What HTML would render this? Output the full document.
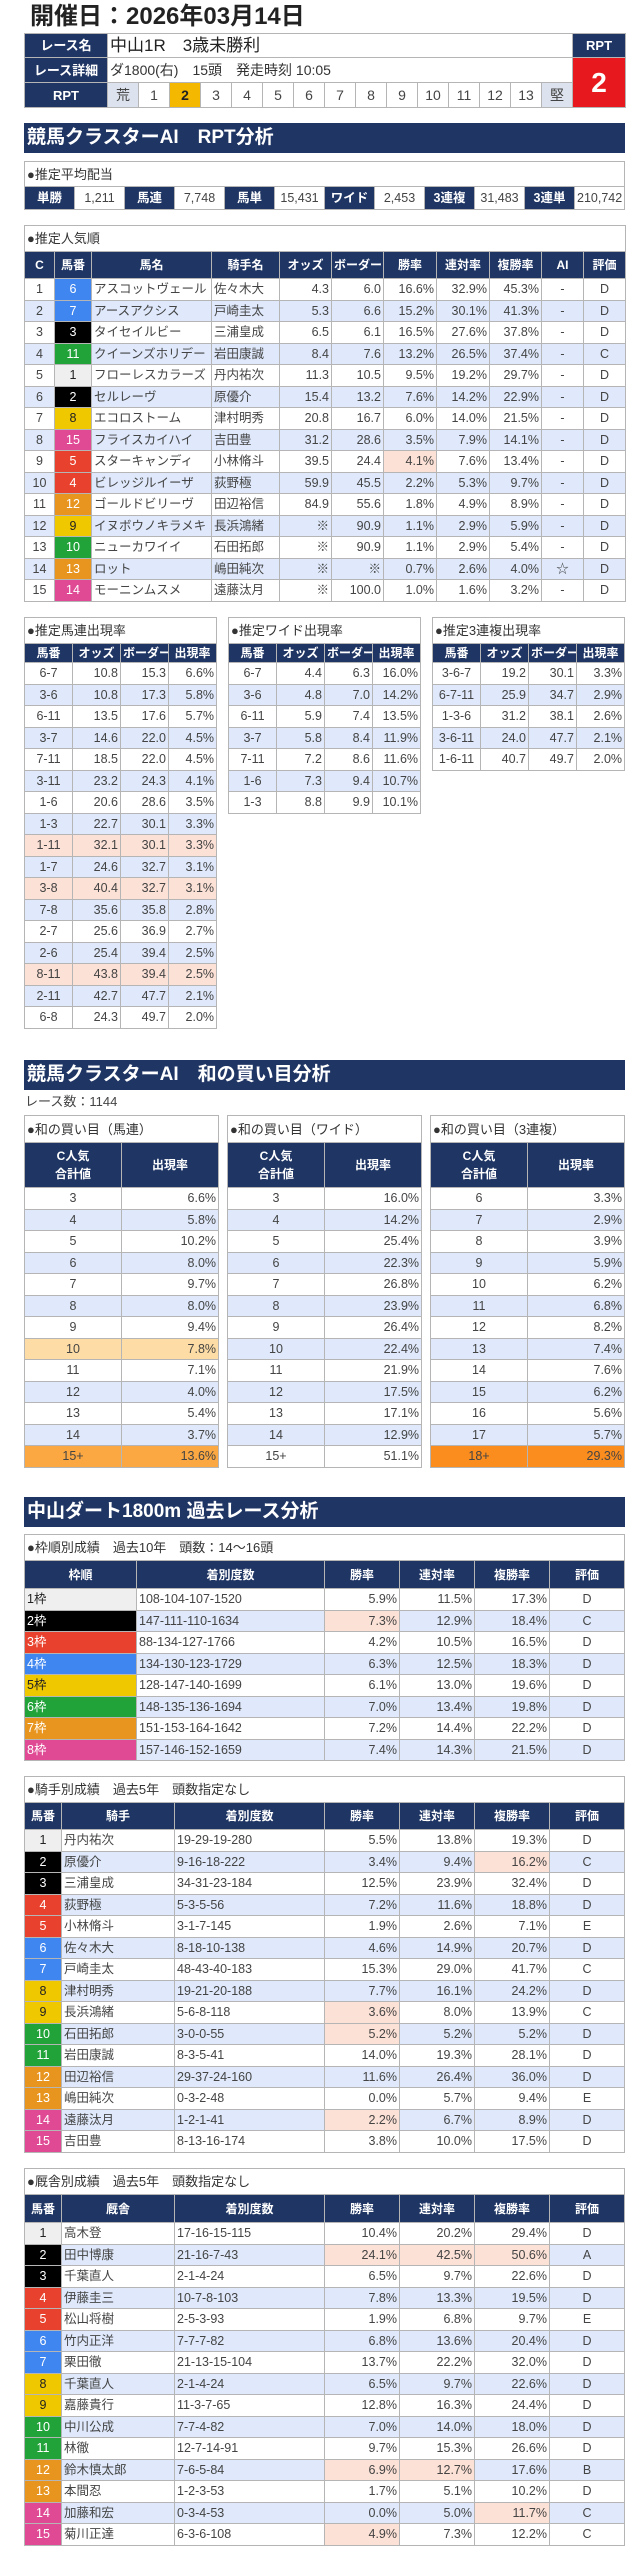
<!DOCTYPE html>
<html><head><meta charset="utf-8">
<style>
body{margin:0;width:644px;height:2560px;background:#fff;position:relative;font-family:"Liberation Sans","Noto Sans CJK JP",sans-serif;color:#444;overflow:hidden}
.t{position:absolute;left:24px;border-collapse:collapse;table-layout:fixed;font-size:12.5px;color:#444}
.t td{border:1px solid #b5b5b5;padding:0 2px;white-space:nowrap;overflow:hidden;line-height:1}
.h td{background:#1f3564;color:#fff;font-weight:bold;text-align:center;font-size:12px}
.ti td{background:#fff;text-align:left;font-size:13px;color:#333}
.a td{background:#dfe9fb}
.r{text-align:right}.c{text-align:center}
.t td.p{background:#fce1d6}
.bar{position:absolute;left:24px;width:598px;height:30px;background:#1f3564;color:#fff;font-weight:bold;font-size:19px;line-height:30px;padding-left:3px}
.f1{background:#efefef!important;color:#222!important}
.f2{background:#000!important;color:#fff!important}
.f3{background:#e8412d!important;color:#fff!important}
.f4{background:#3f86f0!important;color:#fff!important}
.f5{background:#f0c800!important;color:#222!important}
.f6{background:#21a33a!important;color:#fff!important}
.f7{background:#e8951f!important;color:#fff!important}
.f8{background:#e04a95!important;color:#fff!important}
.t td.o1{background:#fedca5}.t td.o2{background:#fba842}.t td.o3{background:#fb8c1e}
</style></head><body>
<div style="position:absolute;left:30px;top:3px;font-size:24px;font-weight:bold;color:#222;line-height:28px">開催日：2026年03月14日</div>

<table class="t" style="top:33px;width:601px;font-size:14px">
<colgroup><col style="width:83px"><col span="15" style="width:31px"><col style="width:53px"></colgroup>
<tr style="height:24px"><td style="background:#1f3564;color:#fff;font-weight:bold;text-align:center;font-size:13px">レース名</td><td colspan="15" style="font-size:17px;color:#222">中山1R　3歳未勝利</td><td style="background:#1f3564;color:#fff;font-weight:bold;text-align:center;font-size:13px">RPT</td></tr>
<tr style="height:25px"><td style="background:#1f3564;color:#fff;font-weight:bold;text-align:center;font-size:13px">レース詳細</td><td colspan="15" style="color:#333">ダ1800(右)　15頭　発走時刻 10:05</td><td rowspan="2" style="background:#e8191e;color:#fff;font-weight:bold;text-align:center;font-size:28px">2</td></tr>
<tr style="height:25px"><td style="background:#1f3564;color:#fff;font-weight:bold;text-align:center;font-size:13px">RPT</td><td class="c" style="background:#dde3ee">荒</td><td class="c">1</td><td class="c" style="background:#f5b800;font-weight:bold;color:#222">2</td><td class="c">3</td><td class="c">4</td><td class="c">5</td><td class="c">6</td><td class="c">7</td><td class="c">8</td><td class="c">9</td><td class="c">10</td><td class="c">11</td><td class="c">12</td><td class="c">13</td><td class="c" style="background:#dde3ee">堅</td></tr>
</table>

<div class="bar" style="top:123px">競馬クラスターAI　RPT分析</div>

<table class="t" style="top:161px;width:601px">
<colgroup><col span="12" style="width:50px"></colgroup>
<tr class="ti" style="height:25px"><td colspan="12">●推定平均配当</td></tr>
<tr style="height:23px"><td class="c" style="background:#1f3564;color:#fff;font-weight:bold">単勝</td><td class="c">1,211</td><td class="c" style="background:#1f3564;color:#fff;font-weight:bold">馬連</td><td class="c">7,748</td><td class="c" style="background:#1f3564;color:#fff;font-weight:bold">馬単</td><td class="c">15,431</td><td class="c" style="background:#1f3564;color:#fff;font-weight:bold">ワイド</td><td class="c">2,453</td><td class="c" style="background:#1f3564;color:#fff;font-weight:bold">3連複</td><td class="c">31,483</td><td class="c" style="background:#1f3564;color:#fff;font-weight:bold">3連単</td><td class="c">210,742</td></tr>
</table>

<table class="t" style="top:225px;width:601px">
<colgroup><col style="width:30px"><col style="width:37px"><col style="width:120px"><col style="width:68px"><col style="width:52px"><col style="width:52px"><col style="width:53px"><col style="width:53px"><col style="width:52px"><col style="width:42px"><col style="width:42px"></colgroup>
<tr class="ti" style="height:26px"><td colspan="11">●推定人気順</td></tr>
<tr class="h" style="height:27px"><td>C</td><td>馬番</td><td>馬名</td><td>騎手名</td><td>オッズ</td><td>ボーダー</td><td>勝率</td><td>連対率</td><td>複勝率</td><td>AI</td><td>評価</td></tr>
<tr style="height:21.5px"><td class="c">1</td><td class="c f4">6</td><td>アスコットヴェール</td><td>佐々木大</td><td class="r">4.3</td><td class="r">6.0</td><td class="r">16.6%</td><td class="r">32.9%</td><td class="r">45.3%</td><td class="c">-</td><td class="c">D</td></tr>
<tr class="a" style="height:21.5px"><td class="c">2</td><td class="c f4">7</td><td>アースアクシス</td><td>戸崎圭太</td><td class="r">5.3</td><td class="r">6.6</td><td class="r">15.2%</td><td class="r">30.1%</td><td class="r">41.3%</td><td class="c">-</td><td class="c">D</td></tr>
<tr style="height:21.5px"><td class="c">3</td><td class="c f2">3</td><td>タイセイルビー</td><td>三浦皇成</td><td class="r">6.5</td><td class="r">6.1</td><td class="r">16.5%</td><td class="r">27.6%</td><td class="r">37.8%</td><td class="c">-</td><td class="c">D</td></tr>
<tr class="a" style="height:21.5px"><td class="c">4</td><td class="c f6">11</td><td>クイーンズホリデー</td><td>岩田康誠</td><td class="r">8.4</td><td class="r">7.6</td><td class="r">13.2%</td><td class="r">26.5%</td><td class="r">37.4%</td><td class="c">-</td><td class="c">C</td></tr>
<tr style="height:21.5px"><td class="c">5</td><td class="c f1">1</td><td>フローレスカラーズ</td><td>丹内祐次</td><td class="r">11.3</td><td class="r">10.5</td><td class="r">9.5%</td><td class="r">19.2%</td><td class="r">29.7%</td><td class="c">-</td><td class="c">D</td></tr>
<tr class="a" style="height:21.5px"><td class="c">6</td><td class="c f2">2</td><td>セルレーヴ</td><td>原優介</td><td class="r">15.4</td><td class="r">13.2</td><td class="r">7.6%</td><td class="r">14.2%</td><td class="r">22.9%</td><td class="c">-</td><td class="c">D</td></tr>
<tr style="height:21.5px"><td class="c">7</td><td class="c f5">8</td><td>エコロストーム</td><td>津村明秀</td><td class="r">20.8</td><td class="r">16.7</td><td class="r">6.0%</td><td class="r">14.0%</td><td class="r">21.5%</td><td class="c">-</td><td class="c">D</td></tr>
<tr class="a" style="height:21.5px"><td class="c">8</td><td class="c f8">15</td><td>フライスカイハイ</td><td>吉田豊</td><td class="r">31.2</td><td class="r">28.6</td><td class="r">3.5%</td><td class="r">7.9%</td><td class="r">14.1%</td><td class="c">-</td><td class="c">D</td></tr>
<tr style="height:21.5px"><td class="c">9</td><td class="c f3">5</td><td>スターキャンディ</td><td>小林脩斗</td><td class="r">39.5</td><td class="r">24.4</td><td class="r p">4.1%</td><td class="r">7.6%</td><td class="r">13.4%</td><td class="c">-</td><td class="c">D</td></tr>
<tr class="a" style="height:21.5px"><td class="c">10</td><td class="c f3">4</td><td>ビレッジルイーザ</td><td>荻野極</td><td class="r">59.9</td><td class="r">45.5</td><td class="r">2.2%</td><td class="r">5.3%</td><td class="r">9.7%</td><td class="c">-</td><td class="c">D</td></tr>
<tr style="height:21.5px"><td class="c">11</td><td class="c f7">12</td><td>ゴールドビリーヴ</td><td>田辺裕信</td><td class="r">84.9</td><td class="r">55.6</td><td class="r">1.8%</td><td class="r">4.9%</td><td class="r">8.9%</td><td class="c">-</td><td class="c">D</td></tr>
<tr class="a" style="height:21.5px"><td class="c">12</td><td class="c f5">9</td><td>イヌボウノキラメキ</td><td>長浜鴻緒</td><td class="r">※</td><td class="r">90.9</td><td class="r">1.1%</td><td class="r">2.9%</td><td class="r">5.9%</td><td class="c">-</td><td class="c">D</td></tr>
<tr style="height:21.5px"><td class="c">13</td><td class="c f6">10</td><td>ニューカワイイ</td><td>石田拓郎</td><td class="r">※</td><td class="r">90.9</td><td class="r">1.1%</td><td class="r">2.9%</td><td class="r">5.4%</td><td class="c">-</td><td class="c">D</td></tr>
<tr class="a" style="height:21.5px"><td class="c">14</td><td class="c f7">13</td><td>ロット</td><td>嶋田純次</td><td class="r">※</td><td class="r">※</td><td class="r">0.7%</td><td class="r">2.6%</td><td class="r">4.0%</td><td class="c">☆</td><td class="c">D</td></tr>
<tr style="height:21.5px"><td class="c">15</td><td class="c f8">14</td><td>モーニンムスメ</td><td>遠藤汰月</td><td class="r">※</td><td class="r">100.0</td><td class="r">1.0%</td><td class="r">1.6%</td><td class="r">3.2%</td><td class="c">-</td><td class="c">D</td></tr>
</table>

<table class="t" style="top:617px;left:24px;width:192px">
<colgroup><col span="4" style="width:48px"></colgroup>
<tr class="ti" style="height:26px"><td colspan="4">●推定馬連出現率</td></tr>
<tr class="h" style="height:19px"><td>馬番</td><td>オッズ</td><td>ボーダー</td><td>出現率</td></tr>
<tr style="height:21.5px"><td class="c">6-7</td><td class="r">10.8</td><td class="r">15.3</td><td class="r">6.6%</td></tr>
<tr class="a" style="height:21.5px"><td class="c">3-6</td><td class="r">10.8</td><td class="r">17.3</td><td class="r">5.8%</td></tr>
<tr style="height:21.5px"><td class="c">6-11</td><td class="r">13.5</td><td class="r">17.6</td><td class="r">5.7%</td></tr>
<tr class="a" style="height:21.5px"><td class="c">3-7</td><td class="r">14.6</td><td class="r">22.0</td><td class="r">4.5%</td></tr>
<tr style="height:21.5px"><td class="c">7-11</td><td class="r">18.5</td><td class="r">22.0</td><td class="r">4.5%</td></tr>
<tr class="a" style="height:21.5px"><td class="c">3-11</td><td class="r">23.2</td><td class="r">24.3</td><td class="r">4.1%</td></tr>
<tr style="height:21.5px"><td class="c">1-6</td><td class="r">20.6</td><td class="r">28.6</td><td class="r">3.5%</td></tr>
<tr class="a" style="height:21.5px"><td class="c">1-3</td><td class="r">22.7</td><td class="r">30.1</td><td class="r">3.3%</td></tr>
<tr style="height:21.5px"><td class="c p">1-11</td><td class="r p">32.1</td><td class="r p">30.1</td><td class="r p">3.3%</td></tr>
<tr class="a" style="height:21.5px"><td class="c">1-7</td><td class="r">24.6</td><td class="r">32.7</td><td class="r">3.1%</td></tr>
<tr style="height:21.5px"><td class="c p">3-8</td><td class="r p">40.4</td><td class="r p">32.7</td><td class="r p">3.1%</td></tr>
<tr class="a" style="height:21.5px"><td class="c">7-8</td><td class="r">35.6</td><td class="r">35.8</td><td class="r">2.8%</td></tr>
<tr style="height:21.5px"><td class="c">2-7</td><td class="r">25.6</td><td class="r">36.9</td><td class="r">2.7%</td></tr>
<tr class="a" style="height:21.5px"><td class="c">2-6</td><td class="r">25.4</td><td class="r">39.4</td><td class="r">2.5%</td></tr>
<tr style="height:21.5px"><td class="c p">8-11</td><td class="r p">43.8</td><td class="r p">39.4</td><td class="r p">2.5%</td></tr>
<tr class="a" style="height:21.5px"><td class="c">2-11</td><td class="r">42.7</td><td class="r">47.7</td><td class="r">2.1%</td></tr>
<tr style="height:21.5px"><td class="c">6-8</td><td class="r">24.3</td><td class="r">49.7</td><td class="r">2.0%</td></tr>
</table>

<table class="t" style="top:617px;left:228px;width:192px">
<colgroup><col span="4" style="width:48px"></colgroup>
<tr class="ti" style="height:26px"><td colspan="4">●推定ワイド出現率</td></tr>
<tr class="h" style="height:19px"><td>馬番</td><td>オッズ</td><td>ボーダー</td><td>出現率</td></tr>
<tr style="height:21.5px"><td class="c">6-7</td><td class="r">4.4</td><td class="r">6.3</td><td class="r">16.0%</td></tr>
<tr class="a" style="height:21.5px"><td class="c">3-6</td><td class="r">4.8</td><td class="r">7.0</td><td class="r">14.2%</td></tr>
<tr style="height:21.5px"><td class="c">6-11</td><td class="r">5.9</td><td class="r">7.4</td><td class="r">13.5%</td></tr>
<tr class="a" style="height:21.5px"><td class="c">3-7</td><td class="r">5.8</td><td class="r">8.4</td><td class="r">11.9%</td></tr>
<tr style="height:21.5px"><td class="c">7-11</td><td class="r">7.2</td><td class="r">8.6</td><td class="r">11.6%</td></tr>
<tr class="a" style="height:21.5px"><td class="c">1-6</td><td class="r">7.3</td><td class="r">9.4</td><td class="r">10.7%</td></tr>
<tr style="height:21.5px"><td class="c">1-3</td><td class="r">8.8</td><td class="r">9.9</td><td class="r">10.1%</td></tr>
</table>

<table class="t" style="top:617px;left:432px;width:192px">
<colgroup><col span="4" style="width:48px"></colgroup>
<tr class="ti" style="height:26px"><td colspan="4">●推定3連複出現率</td></tr>
<tr class="h" style="height:19px"><td>馬番</td><td>オッズ</td><td>ボーダー</td><td>出現率</td></tr>
<tr style="height:21.5px"><td class="c">3-6-7</td><td class="r">19.2</td><td class="r">30.1</td><td class="r">3.3%</td></tr>
<tr class="a" style="height:21.5px"><td class="c">6-7-11</td><td class="r">25.9</td><td class="r">34.7</td><td class="r">2.9%</td></tr>
<tr style="height:21.5px"><td class="c">1-3-6</td><td class="r">31.2</td><td class="r">38.1</td><td class="r">2.6%</td></tr>
<tr class="a" style="height:21.5px"><td class="c">3-6-11</td><td class="r">24.0</td><td class="r">47.7</td><td class="r">2.1%</td></tr>
<tr style="height:21.5px"><td class="c">1-6-11</td><td class="r">40.7</td><td class="r">49.7</td><td class="r">2.0%</td></tr>
</table>

<div class="bar" style="top:1060px">競馬クラスターAI　和の買い目分析</div>
<div style="position:absolute;left:25px;top:1094px;font-size:13px;color:#444;line-height:16px">レース数：1144</div>

<table class="t" style="top:1115px;left:24px;width:194px">
<colgroup><col span="2" style="width:97px"></colgroup>
<tr class="ti" style="height:27px"><td colspan="2">●和の買い目（馬連）</td></tr>
<tr class="h" style="height:45px"><td style="line-height:1.5">C人気<br>合計値</td><td>出現率</td></tr>
<tr style="height:21.5px"><td class="c">3</td><td class="r">6.6%</td></tr>
<tr class="a" style="height:21.5px"><td class="c">4</td><td class="r">5.8%</td></tr>
<tr style="height:21.5px"><td class="c">5</td><td class="r">10.2%</td></tr>
<tr class="a" style="height:21.5px"><td class="c">6</td><td class="r">8.0%</td></tr>
<tr style="height:21.5px"><td class="c">7</td><td class="r">9.7%</td></tr>
<tr class="a" style="height:21.5px"><td class="c">8</td><td class="r">8.0%</td></tr>
<tr style="height:21.5px"><td class="c">9</td><td class="r">9.4%</td></tr>
<tr style="height:21.5px"><td class="c o1">10</td><td class="r o1">7.8%</td></tr>
<tr style="height:21.5px"><td class="c">11</td><td class="r">7.1%</td></tr>
<tr class="a" style="height:21.5px"><td class="c">12</td><td class="r">4.0%</td></tr>
<tr style="height:21.5px"><td class="c">13</td><td class="r">5.4%</td></tr>
<tr class="a" style="height:21.5px"><td class="c">14</td><td class="r">3.7%</td></tr>
<tr style="height:21.5px"><td class="c o2">15+</td><td class="r o2">13.6%</td></tr>
</table>

<table class="t" style="top:1115px;left:227px;width:194px">
<colgroup><col span="2" style="width:97px"></colgroup>
<tr class="ti" style="height:27px"><td colspan="2">●和の買い目（ワイド）</td></tr>
<tr class="h" style="height:45px"><td style="line-height:1.5">C人気<br>合計値</td><td>出現率</td></tr>
<tr style="height:21.5px"><td class="c">3</td><td class="r">16.0%</td></tr>
<tr class="a" style="height:21.5px"><td class="c">4</td><td class="r">14.2%</td></tr>
<tr style="height:21.5px"><td class="c">5</td><td class="r">25.4%</td></tr>
<tr class="a" style="height:21.5px"><td class="c">6</td><td class="r">22.3%</td></tr>
<tr style="height:21.5px"><td class="c">7</td><td class="r">26.8%</td></tr>
<tr class="a" style="height:21.5px"><td class="c">8</td><td class="r">23.9%</td></tr>
<tr style="height:21.5px"><td class="c">9</td><td class="r">26.4%</td></tr>
<tr class="a" style="height:21.5px"><td class="c">10</td><td class="r">22.4%</td></tr>
<tr style="height:21.5px"><td class="c">11</td><td class="r">21.9%</td></tr>
<tr class="a" style="height:21.5px"><td class="c">12</td><td class="r">17.5%</td></tr>
<tr style="height:21.5px"><td class="c">13</td><td class="r">17.1%</td></tr>
<tr class="a" style="height:21.5px"><td class="c">14</td><td class="r">12.9%</td></tr>
<tr style="height:21.5px"><td class="c">15+</td><td class="r">51.1%</td></tr>
</table>

<table class="t" style="top:1115px;left:430px;width:194px">
<colgroup><col span="2" style="width:97px"></colgroup>
<tr class="ti" style="height:27px"><td colspan="2">●和の買い目（3連複）</td></tr>
<tr class="h" style="height:45px"><td style="line-height:1.5">C人気<br>合計値</td><td>出現率</td></tr>
<tr style="height:21.5px"><td class="c">6</td><td class="r">3.3%</td></tr>
<tr class="a" style="height:21.5px"><td class="c">7</td><td class="r">2.9%</td></tr>
<tr style="height:21.5px"><td class="c">8</td><td class="r">3.9%</td></tr>
<tr class="a" style="height:21.5px"><td class="c">9</td><td class="r">5.9%</td></tr>
<tr style="height:21.5px"><td class="c">10</td><td class="r">6.2%</td></tr>
<tr class="a" style="height:21.5px"><td class="c">11</td><td class="r">6.8%</td></tr>
<tr style="height:21.5px"><td class="c">12</td><td class="r">8.2%</td></tr>
<tr class="a" style="height:21.5px"><td class="c">13</td><td class="r">7.4%</td></tr>
<tr style="height:21.5px"><td class="c">14</td><td class="r">7.6%</td></tr>
<tr class="a" style="height:21.5px"><td class="c">15</td><td class="r">6.2%</td></tr>
<tr style="height:21.5px"><td class="c">16</td><td class="r">5.6%</td></tr>
<tr class="a" style="height:21.5px"><td class="c">17</td><td class="r">5.7%</td></tr>
<tr style="height:21.5px"><td class="c o3">18+</td><td class="r o3">29.3%</td></tr>
</table>

<div class="bar" style="top:1497px">中山ダート1800m 過去レース分析</div>

<table class="t" style="top:1534px;width:601px">
<colgroup><col style="width:112px"><col style="width:188px"><col style="width:75px"><col style="width:75px"><col style="width:75px"><col style="width:75px"></colgroup>
<tr class="ti" style="height:26px"><td colspan="6">●枠順別成績　過去10年　頭数：14～16頭</td></tr>
<tr class="h" style="height:28px"><td>枠順</td><td>着別度数</td><td>勝率</td><td>連対率</td><td>複勝率</td><td>評価</td></tr>
<tr style="height:21.5px"><td class="f1">1枠</td><td>108-104-107-1520</td><td class="r">5.9%</td><td class="r">11.5%</td><td class="r">17.3%</td><td class="c">D</td></tr>
<tr class="a" style="height:21.5px"><td class="f2">2枠</td><td>147-111-110-1634</td><td class="r p">7.3%</td><td class="r">12.9%</td><td class="r">18.4%</td><td class="c">C</td></tr>
<tr style="height:21.5px"><td class="f3">3枠</td><td>88-134-127-1766</td><td class="r">4.2%</td><td class="r">10.5%</td><td class="r">16.5%</td><td class="c">D</td></tr>
<tr class="a" style="height:21.5px"><td class="f4">4枠</td><td>134-130-123-1729</td><td class="r">6.3%</td><td class="r">12.5%</td><td class="r">18.3%</td><td class="c">D</td></tr>
<tr style="height:21.5px"><td class="f5">5枠</td><td>128-147-140-1699</td><td class="r">6.1%</td><td class="r">13.0%</td><td class="r">19.6%</td><td class="c">D</td></tr>
<tr class="a" style="height:21.5px"><td class="f6">6枠</td><td>148-135-136-1694</td><td class="r">7.0%</td><td class="r">13.4%</td><td class="r">19.8%</td><td class="c">D</td></tr>
<tr style="height:21.5px"><td class="f7">7枠</td><td>151-153-164-1642</td><td class="r">7.2%</td><td class="r">14.4%</td><td class="r">22.2%</td><td class="c">D</td></tr>
<tr class="a" style="height:21.5px"><td class="f8">8枠</td><td>157-146-152-1659</td><td class="r">7.4%</td><td class="r">14.3%</td><td class="r">21.5%</td><td class="c">D</td></tr>
</table>

<table class="t" style="top:1776px;width:601px">
<colgroup><col style="width:37px"><col style="width:113px"><col style="width:150px"><col style="width:75px"><col style="width:75px"><col style="width:75px"><col style="width:75px"></colgroup>
<tr class="ti" style="height:26px"><td colspan="7">●騎手別成績　過去5年　頭数指定なし</td></tr>
<tr class="h" style="height:27px"><td>馬番</td><td>騎手</td><td>着別度数</td><td>勝率</td><td>連対率</td><td>複勝率</td><td>評価</td></tr>
<tr style="height:21.5px"><td class="c f1">1</td><td>丹内祐次</td><td>19-29-19-280</td><td class="r">5.5%</td><td class="r">13.8%</td><td class="r">19.3%</td><td class="c">D</td></tr>
<tr class="a" style="height:21.5px"><td class="c f2">2</td><td>原優介</td><td>9-16-18-222</td><td class="r">3.4%</td><td class="r">9.4%</td><td class="r p">16.2%</td><td class="c">C</td></tr>
<tr style="height:21.5px"><td class="c f2">3</td><td>三浦皇成</td><td>34-31-23-184</td><td class="r">12.5%</td><td class="r">23.9%</td><td class="r">32.4%</td><td class="c">D</td></tr>
<tr class="a" style="height:21.5px"><td class="c f3">4</td><td>荻野極</td><td>5-3-5-56</td><td class="r">7.2%</td><td class="r">11.6%</td><td class="r">18.8%</td><td class="c">D</td></tr>
<tr style="height:21.5px"><td class="c f3">5</td><td>小林脩斗</td><td>3-1-7-145</td><td class="r">1.9%</td><td class="r">2.6%</td><td class="r">7.1%</td><td class="c">E</td></tr>
<tr class="a" style="height:21.5px"><td class="c f4">6</td><td>佐々木大</td><td>8-18-10-138</td><td class="r">4.6%</td><td class="r">14.9%</td><td class="r">20.7%</td><td class="c">D</td></tr>
<tr style="height:21.5px"><td class="c f4">7</td><td>戸崎圭太</td><td>48-43-40-183</td><td class="r">15.3%</td><td class="r">29.0%</td><td class="r">41.7%</td><td class="c">C</td></tr>
<tr class="a" style="height:21.5px"><td class="c f5">8</td><td>津村明秀</td><td>19-21-20-188</td><td class="r">7.7%</td><td class="r">16.1%</td><td class="r">24.2%</td><td class="c">D</td></tr>
<tr style="height:21.5px"><td class="c f5">9</td><td>長浜鴻緒</td><td>5-6-8-118</td><td class="r p">3.6%</td><td class="r">8.0%</td><td class="r">13.9%</td><td class="c">C</td></tr>
<tr class="a" style="height:21.5px"><td class="c f6">10</td><td>石田拓郎</td><td>3-0-0-55</td><td class="r p">5.2%</td><td class="r">5.2%</td><td class="r">5.2%</td><td class="c">D</td></tr>
<tr style="height:21.5px"><td class="c f6">11</td><td>岩田康誠</td><td>8-3-5-41</td><td class="r">14.0%</td><td class="r">19.3%</td><td class="r">28.1%</td><td class="c">D</td></tr>
<tr class="a" style="height:21.5px"><td class="c f7">12</td><td>田辺裕信</td><td>29-37-24-160</td><td class="r">11.6%</td><td class="r">26.4%</td><td class="r">36.0%</td><td class="c">D</td></tr>
<tr style="height:21.5px"><td class="c f7">13</td><td>嶋田純次</td><td>0-3-2-48</td><td class="r">0.0%</td><td class="r">5.7%</td><td class="r">9.4%</td><td class="c">E</td></tr>
<tr class="a" style="height:21.5px"><td class="c f8">14</td><td>遠藤汰月</td><td>1-2-1-41</td><td class="r p">2.2%</td><td class="r">6.7%</td><td class="r">8.9%</td><td class="c">D</td></tr>
<tr style="height:21.5px"><td class="c f8">15</td><td>吉田豊</td><td>8-13-16-174</td><td class="r">3.8%</td><td class="r">10.0%</td><td class="r">17.5%</td><td class="c">D</td></tr>
</table>

<table class="t" style="top:2168px;width:601px">
<colgroup><col style="width:37px"><col style="width:113px"><col style="width:150px"><col style="width:75px"><col style="width:75px"><col style="width:75px"><col style="width:75px"></colgroup>
<tr class="ti" style="height:26px"><td colspan="7">●厩舎別成績　過去5年　頭数指定なし</td></tr>
<tr class="h" style="height:28px"><td>馬番</td><td>厩舎</td><td>着別度数</td><td>勝率</td><td>連対率</td><td>複勝率</td><td>評価</td></tr>
<tr style="height:21.5px"><td class="c f1">1</td><td>高木登</td><td>17-16-15-115</td><td class="r">10.4%</td><td class="r">20.2%</td><td class="r">29.4%</td><td class="c">D</td></tr>
<tr class="a" style="height:21.5px"><td class="c f2">2</td><td>田中博康</td><td>21-16-7-43</td><td class="r p">24.1%</td><td class="r p">42.5%</td><td class="r p">50.6%</td><td class="c">A</td></tr>
<tr style="height:21.5px"><td class="c f2">3</td><td>千葉直人</td><td>2-1-4-24</td><td class="r">6.5%</td><td class="r">9.7%</td><td class="r">22.6%</td><td class="c">D</td></tr>
<tr class="a" style="height:21.5px"><td class="c f3">4</td><td>伊藤圭三</td><td>10-7-8-103</td><td class="r">7.8%</td><td class="r">13.3%</td><td class="r">19.5%</td><td class="c">D</td></tr>
<tr style="height:21.5px"><td class="c f3">5</td><td>松山将樹</td><td>2-5-3-93</td><td class="r">1.9%</td><td class="r">6.8%</td><td class="r">9.7%</td><td class="c">E</td></tr>
<tr class="a" style="height:21.5px"><td class="c f4">6</td><td>竹内正洋</td><td>7-7-7-82</td><td class="r">6.8%</td><td class="r">13.6%</td><td class="r">20.4%</td><td class="c">D</td></tr>
<tr style="height:21.5px"><td class="c f4">7</td><td>栗田徹</td><td>21-13-15-104</td><td class="r">13.7%</td><td class="r">22.2%</td><td class="r">32.0%</td><td class="c">D</td></tr>
<tr class="a" style="height:21.5px"><td class="c f5">8</td><td>千葉直人</td><td>2-1-4-24</td><td class="r">6.5%</td><td class="r">9.7%</td><td class="r">22.6%</td><td class="c">D</td></tr>
<tr style="height:21.5px"><td class="c f5">9</td><td>嘉藤貴行</td><td>11-3-7-65</td><td class="r">12.8%</td><td class="r">16.3%</td><td class="r">24.4%</td><td class="c">D</td></tr>
<tr class="a" style="height:21.5px"><td class="c f6">10</td><td>中川公成</td><td>7-7-4-82</td><td class="r">7.0%</td><td class="r">14.0%</td><td class="r">18.0%</td><td class="c">D</td></tr>
<tr style="height:21.5px"><td class="c f6">11</td><td>林徹</td><td>12-7-14-91</td><td class="r">9.7%</td><td class="r">15.3%</td><td class="r">26.6%</td><td class="c">D</td></tr>
<tr class="a" style="height:21.5px"><td class="c f7">12</td><td>鈴木慎太郎</td><td>7-6-5-84</td><td class="r p">6.9%</td><td class="r p">12.7%</td><td class="r">17.6%</td><td class="c">B</td></tr>
<tr style="height:21.5px"><td class="c f7">13</td><td>本間忍</td><td>1-2-3-53</td><td class="r">1.7%</td><td class="r">5.1%</td><td class="r">10.2%</td><td class="c">D</td></tr>
<tr class="a" style="height:21.5px"><td class="c f8">14</td><td>加藤和宏</td><td>0-3-4-53</td><td class="r">0.0%</td><td class="r">5.0%</td><td class="r p">11.7%</td><td class="c">C</td></tr>
<tr style="height:21.5px"><td class="c f8">15</td><td>菊川正達</td><td>6-3-6-108</td><td class="r p">4.9%</td><td class="r">7.3%</td><td class="r">12.2%</td><td class="c">C</td></tr>
</table>
</body></html>
